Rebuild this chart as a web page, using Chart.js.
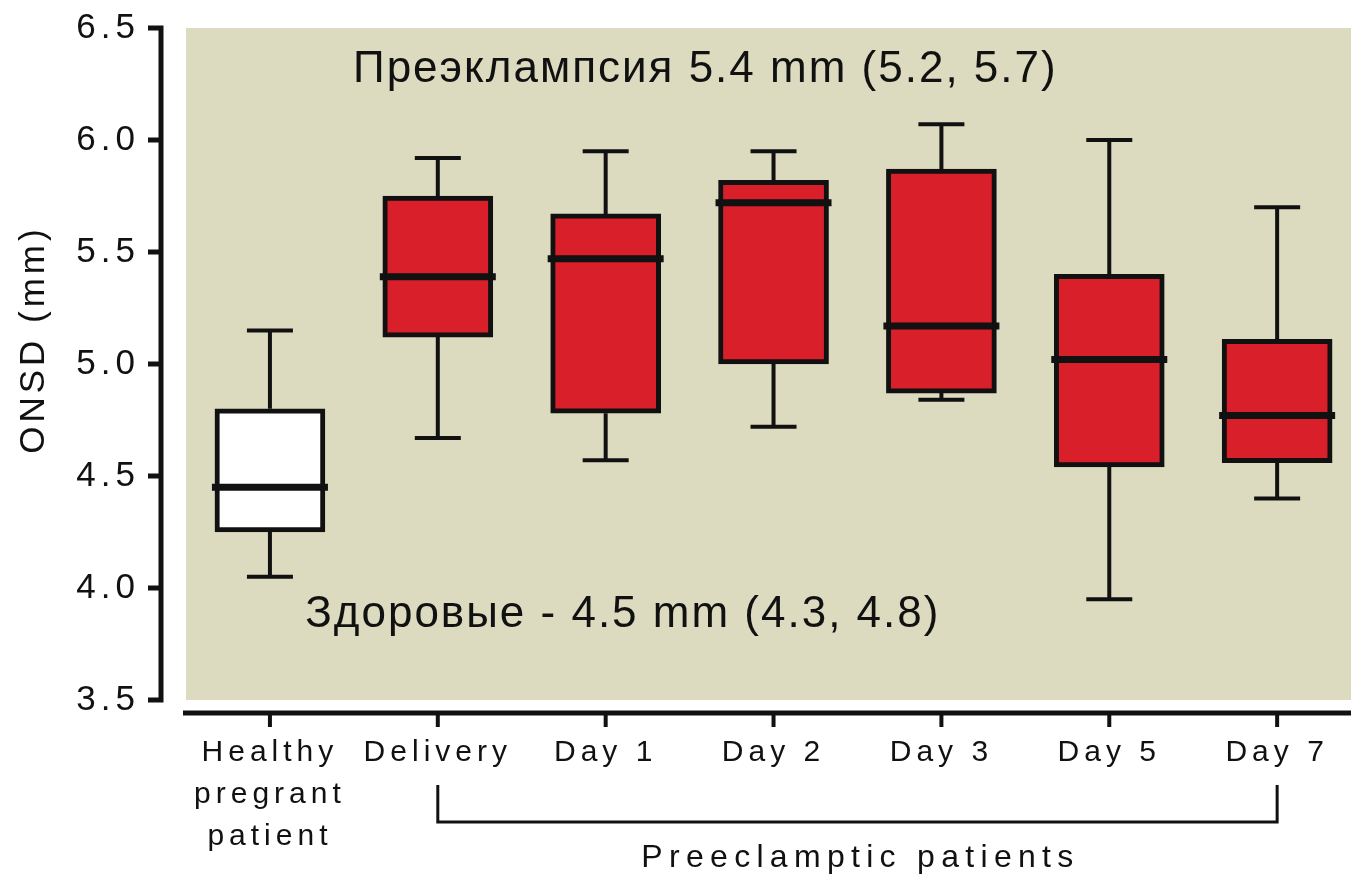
<!DOCTYPE html>
<html>
<head>
<meta charset="utf-8">
<title>ONSD</title>
<script src="https://cdn.jsdelivr.net/npm/chart.js@4/dist/chart.umd.min.js"></script>
<style>
  html, body { margin: 0; padding: 0; background: #fff; overflow: hidden; }
</style>
</head>
<body>
<canvas id="onsd-chart" width="1351" height="876"></canvas>
<script>
// groups along the x axis (multi-line labels are arrays)
const groups = [["Healthy", "pregrant", "patient"], "Delivery", "Day 1", "Day 2", "Day 3", "Day 5", "Day 7"];

// box plot values, ONSD in mm
const whiskerLow  = [4.05, 4.67, 4.57, 4.72, 4.84, 3.95, 4.40];
const boxLow      = [4.25, 5.12, 4.78, 5.00, 4.87, 4.54, 4.56];
const medians     = [4.45, 5.39, 5.47, 5.72, 5.17, 5.02, 4.77];
const boxHigh     = [4.80, 5.75, 5.67, 5.82, 5.87, 5.40, 5.11];
const whiskerHigh = [5.15, 5.92, 5.95, 5.95, 6.07, 6.00, 5.70];

const yTicks = [3.5, 4.0, 4.5, 5.0, 5.5, 6.0, 6.5];
const boxColors = ["#ffffff", "#d81f2a", "#d81f2a", "#d81f2a", "#d81f2a", "#d81f2a", "#d81f2a"];

const yTitle = "ONSD (mm)";
const preeclampsiaNote = "Преэклампсия 5.4 mm (5.2, 5.7)";
const healthyNote = "Здоровые - 4.5 mm (4.3, 4.8)";
const bracketLabel = "Preeclamptic patients";

const FONT = "'Liberation Sans', Arial, sans-serif";
const INK = "#111111";

const boxPlotExtras = {
  id: "boxPlotExtras",
  beforeDraw(chart) {
    const { ctx, chartArea: a } = chart;
    ctx.save();
    ctx.fillStyle = "#dcdbc0";
    ctx.fillRect(a.left, a.top, a.right - a.left, a.bottom - a.top);
    ctx.restore();
    // spaced lettering for the tick labels
    ctx.letterSpacing = "5px";
  },
  beforeDatasetsDraw(chart) {
    const { ctx } = chart;
    const x = chart.scales.x, y = chart.scales.y;
    ctx.save();
    ctx.strokeStyle = INK;
    ctx.lineWidth = 4;
    groups.forEach((g, i) => {
      const px = x.getPixelForValue(i);
      const hi = y.getPixelForValue(whiskerHigh[i]);
      const lo = y.getPixelForValue(whiskerLow[i]);
      ctx.beginPath();
      ctx.moveTo(px, hi);
      ctx.lineTo(px, y.getPixelForValue(boxHigh[i]));
      ctx.moveTo(px, y.getPixelForValue(boxLow[i]));
      ctx.lineTo(px, lo);
      ctx.moveTo(px - 23, hi);
      ctx.lineTo(px + 23, hi);
      ctx.moveTo(px - 23, lo);
      ctx.lineTo(px + 23, lo);
      ctx.stroke();
    });
    ctx.restore();
  },
  afterDatasetsDraw(chart) {
    const { ctx, chartArea: a } = chart;
    const x = chart.scales.x, y = chart.scales.y;
    ctx.save();

    // medians
    ctx.strokeStyle = INK;
    ctx.lineWidth = 7;
    medians.forEach((m, i) => {
      const px = x.getPixelForValue(i);
      const py = y.getPixelForValue(m);
      ctx.beginPath();
      ctx.moveTo(px - 58, py);
      ctx.lineTo(px + 58, py);
      ctx.stroke();
    });

    // detached y axis with ticks
    const ax = a.left - 25;
    ctx.lineWidth = 5;
    ctx.beginPath();
    ctx.moveTo(ax, y.getPixelForValue(6.5) - 2.5);
    ctx.lineTo(ax, y.getPixelForValue(3.5) + 2.5);
    yTicks.forEach(t => {
      const py = y.getPixelForValue(t);
      ctx.moveTo(ax - 13, py);
      ctx.lineTo(ax, py);
    });
    ctx.stroke();

    // detached x axis with ticks
    const ay = a.bottom + 13;
    ctx.beginPath();
    ctx.moveTo(a.left - 3, ay);
    ctx.lineTo(chart.width, ay);
    ctx.stroke();
    ctx.lineWidth = 4;
    ctx.beginPath();
    groups.forEach((g, i) => {
      const px = x.getPixelForValue(i);
      ctx.moveTo(px, ay);
      ctx.lineTo(px, ay + 14);
    });
    ctx.stroke();

    // bracket under the preeclamptic groups
    const bx0 = x.getPixelForValue(1), bx1 = x.getPixelForValue(groups.length - 1);
    ctx.lineWidth = 3;
    ctx.beginPath();
    ctx.moveTo(bx0, a.bottom + 85);
    ctx.lineTo(bx0, a.bottom + 122);
    ctx.lineTo(bx1, a.bottom + 122);
    ctx.lineTo(bx1, a.bottom + 85);
    ctx.stroke();

    ctx.fillStyle = INK;
    ctx.textBaseline = "alphabetic";
    ctx.textAlign = "center";
    ctx.letterSpacing = "6.3px";
    ctx.font = "32px " + FONT;
    ctx.fillText(bracketLabel, (bx0 + bx1) / 2 + 3, a.bottom + 167);

    // rotated y axis title
    ctx.save();
    ctx.translate(a.left - 152, y.getPixelForValue(5.1));
    ctx.rotate(-Math.PI / 2);
    ctx.textBaseline = "middle";
    ctx.letterSpacing = "4px";
    ctx.font = "35px " + FONT;
    ctx.fillText(yTitle, 2, 0);
    ctx.restore();

    // group summary notes
    ctx.letterSpacing = "2px";
    ctx.textAlign = "left";
    ctx.font = "44px " + FONT;
    ctx.fillText(preeclampsiaNote, x.getPixelForValue(0.495), y.getPixelForValue(6.259));
    ctx.fillText(healthyNote, x.getPixelForValue(0.21), y.getPixelForValue(3.826));

    ctx.restore();
  }
};

const ctx = document.getElementById("onsd-chart");

new Chart(ctx, {
  type: "bar",
  data: {
    datasets: [
      {
        label: "ONSD",
        data: groups.map((g, i) => ({ x: i, y: [boxLow[i], boxHigh[i]] })),
        backgroundColor: boxColors,
        borderColor: INK,
        borderWidth: 5,
        borderSkipped: false,
        barThickness: 110,
      },
    ],
  },
  options: {
    responsive: false,
    animation: false,
    layout: { padding: { top: 28, left: 0, right: 0, bottom: 0 } },
    plugins: {
      legend: { display: false },
      tooltip: { enabled: false },
    },
    scales: {
      x: {
        type: "linear",
        min: -0.5,
        max: 6.44,
        offset: false,
        grid: { display: false, drawTicks: false },
        border: { display: false },
        afterBuildTicks: (scale) => {
          scale.ticks = groups.map((g, i) => ({ value: i }));
        },
        afterFit: (scale) => {
          scale.height = 176;
          scale.paddingLeft = 0;
          scale.paddingRight = 0;
        },
        ticks: {
          autoSkip: false,
          maxRotation: 0,
          padding: 32,
          color: INK,
          font: { family: FONT, size: 30, lineHeight: 1.4 },
          callback: (v) => groups[v],
        },
      },
      y: {
        min: 3.5,
        max: 6.5,
        grid: { display: false, drawTicks: false },
        border: { display: false },
        afterBuildTicks: (scale) => {
          scale.ticks = yTicks.map(v => ({ value: v }));
        },
        afterFit: (scale) => {
          scale.width = 186;
          scale.paddingTop = 0;
          scale.paddingBottom = 0;
        },
        ticks: {
          padding: 46,
          color: INK,
          font: { family: FONT, size: 35 },
          callback: (v) => v.toFixed(1),
        },
      },
    },
  },
  plugins: [boxPlotExtras],
});
</script>
</body>
</html>
